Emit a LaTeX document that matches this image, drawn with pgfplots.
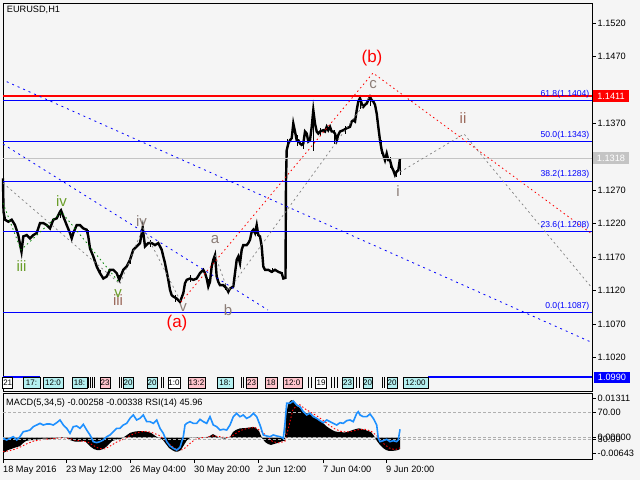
\documentclass[border=0pt]{standalone}
\usepackage{pgfplots}
\pgfplotsset{compat=1.18}
\usepackage{fontspec}
\setmainfont{Liberation Sans}
\definecolor{bg}{HTML}{F5F5F5}
\definecolor{wave}{HTML}{8C7E78}
\definecolor{wavebrown}{HTML}{9C6A5C}
\definecolor{wgreen}{HTML}{6A9E2A}
\definecolor{dgreen}{HTML}{008000}
\definecolor{rsiblue}{HTML}{1E90FF}
\definecolor{evcyan}{HTML}{B4F0F0}
\definecolor{evpink}{HTML}{FFC4CC}
\definecolor{taggray}{HTML}{C4C4C4}
\definecolor{lvl}{HTML}{B0B0B0}
\newcommand{\sm}{\fontsize{9.2}{10}\selectfont}
\newcommand{\fb}{\fontsize{8.6}{9}\selectfont}
\newcommand{\ev}{\fontsize{8}{9}\selectfont}
\newcommand{\wv}{\fontsize{15}{16}\selectfont}
\newcommand{\wb}{\fontsize{17}{18}\selectfont}
\begin{document}
\begin{tikzpicture}
\useasboundingbox (0pt,0pt) rectangle (640pt,480pt);
\fill[bg] (0pt,0pt) rectangle (640pt,480pt);

% ================= MAIN PRICE PANEL =================
\begin{axis}[
  at={(3pt,477pt)}, anchor=north west, scale only axis,
  width=589pt, height=388pt,
  xmin=3, xmax=592, ymin=1.09696, ymax=1.15504,
  clip=false, scaled y ticks=false,
  axis line style={black, line width=0.9pt},
  xtick=\empty,
  ytick={1.1020,1.1070,1.1120,1.1170,1.1220,1.1270,1.1320,1.1370,1.1420,1.1470,1.1520},
  yticklabels={1.1020,1.1070,1.1120,1.1170,1.1220,1.1270,,1.1370,,1.1470,1.1520},
  ytick pos=right, yticklabel pos=right, tick align=outside, major tick length=3.5pt,
  tick style={black, line width=0.8pt},
  yticklabel style={font=\sm, anchor=west, inner sep=0pt, xshift=2pt},
]
% price
\addplot[black, line width=2.4pt] coordinates {
(3,1.1288) (3.5,1.1238) (5,1.1226) (8.3,1.1223) (11.7,1.1226) (15,1.1218) (18.3,1.1203) (20.7,1.1184) (21.5,1.1178) (23.3,1.1201) (26.7,1.1203) (30,1.1198) (33.3,1.1203) (36.7,1.1206) (40,1.1221) (43.3,1.1221) (46.7,1.1218) (50,1.1213) (53.3,1.1226) (56.7,1.1228) (60,1.1238) (61,1.1240) (63.3,1.1231) (66.7,1.1218) (70,1.1206) (71.7,1.1198) (73.3,1.1206) (76.7,1.1218) (80,1.1218) (83.3,1.1213) (86.7,1.1211) (88.3,1.1201) (90,1.1183) (93.3,1.1171) (96.7,1.1156) (100,1.1146) (103.3,1.1138) (106.7,1.1141) (110,1.1151) (113.3,1.1151) (116.7,1.1146) (119.3,1.1136) (123.3,1.1151) (126.7,1.1156) (130,1.1166) (133.3,1.1181) (136.7,1.1186) (140,1.1191) (142.7,1.1214) (145,1.1186) (148.3,1.1191) (151.7,1.1191) (155,1.1188) (158.3,1.1191) (161.7,1.1181) (163.3,1.1171) (165,1.1161) (166.7,1.1148) (168.3,1.1136) (170,1.1121) (171.7,1.1113) (173.3,1.1111) (176.7,1.1108) (180,1.1103) (183.3,1.1116) (185,1.1131) (186.7,1.1136) (190,1.1138) (193.3,1.1136) (196.7,1.1138) (200,1.1146) (203.3,1.1151) (205,1.1146) (206.7,1.1138) (208.3,1.1126) (210,1.1133) (211.7,1.1156) (213.3,1.1166) (215,1.1173) (216.7,1.1141) (218.3,1.1133) (220,1.1128) (223.3,1.1128) (226.7,1.1123) (228.3,1.1118) (230,1.1123) (233.3,1.1126) (235,1.1146) (236.7,1.1166) (238.3,1.1171) (240,1.1161) (241.7,1.1181) (243.3,1.1188) (246.7,1.1188) (248.3,1.1191) (250,1.1196) (251.7,1.1208) (253.3,1.1211) (255,1.1206) (256.7,1.1218) (258.3,1.1203) (260,1.1201) (261.7,1.1186) (263.3,1.1156) (265,1.1151) (268.3,1.1151) (271.7,1.1148) (275,1.1151) (278.3,1.1148) (281.7,1.1146) (283.3,1.1138) (285.5,1.1139) (286,1.1285) (286.7,1.1330) (288.3,1.1340) (290,1.1345) (291.7,1.1348) (293.3,1.1370) (295,1.1358) (296.7,1.1345) (298.3,1.1345) (300,1.1340) (301.7,1.1338) (303.3,1.1340) (305,1.1358) (306.7,1.1355) (308.3,1.1343) (310,1.1345) (311.7,1.1365) (313.3,1.1390) (315,1.1370) (316.7,1.1358) (318.3,1.1355) (320,1.1358) (323.3,1.1360) (325,1.1358) (326.7,1.1365) (328.3,1.1360) (330,1.1365) (331.7,1.1358) (333.3,1.1358) (335,1.1355) (336.7,1.1345) (338.3,1.1353) (340,1.1358) (343.3,1.1360) (346.7,1.1363) (350,1.1365) (351.7,1.1373) (353.3,1.1375) (355,1.1373) (356.7,1.1390) (358.3,1.1403) (360,1.1408) (361.7,1.1400) (363.3,1.1395) (365,1.1398) (366.7,1.1400) (368.3,1.1405) (370,1.1410) (371.7,1.1405) (373.3,1.1403) (375,1.1398) (376.7,1.1385) (378.3,1.1365) (380,1.1345) (381.7,1.1330) (383.3,1.1323) (385,1.1315) (386.7,1.1325) (388.3,1.1315) (390,1.1315) (391.7,1.1305) (393.3,1.1300) (395,1.1293) (396.7,1.1298) (398.3,1.1300) (400,1.1318)
};
% high-low spikes of single bars
\addplot[black, line width=1pt, draw=none, mark=none, error bars/.cd, y dir=both, y explicit, error bar style={black, line width=1pt}, error mark=none] coordinates {
(21,1.1180) +- (0,0.0005)
(60,1.1235) +- (0,0.0006)
(88,1.1205) +- (0,0.0006)
(100,1.1146) +- (0,0.0005)
(119,1.1138) +- (0,0.0005)
(130,1.1166) +- (0,0.0006)
(150,1.1190) +- (0,0.0005)
(175,1.1108) +- (0,0.0005)
(190,1.1138) +- (0,0.0005)
(208,1.1130) +- (0,0.0007)
(225,1.1126) +- (0,0.0005)
(240,1.1165) +- (0,0.0008)
(256,1.1212) +- (0,0.0008)
(262,1.1175) +- (0,0.0012)
(272,1.1150) +- (0,0.0004)
(282,1.1142) +- (0,0.0005)
(287,1.1335) +- (0,0.0012)
(297,1.1345) +- (0,0.0008)
(303,1.1340) +- (0,0.0008)
(313,1.1359) +- (0,0.0030)
(320,1.1358) +- (0,0.0006)
(334,1.1350) +- (0,0.0010)
(345,1.1360) +- (0,0.0006)
(360,1.1400) +- (0,0.0008)
(370,1.1403) +- (0,0.0007)
(381,1.1335) +- (0,0.0010)
(390,1.1312) +- (0,0.0008)
(396,1.1295) +- (0,0.0005)
(400,1.1305) +- (0,0.0012)
};
% horizontal levels
\addplot[taggray, line width=0.9pt] coordinates {(3,1.1318) (592,1.1318)};
\addplot[blue, line width=0.9pt] coordinates {(3,1.1404) (592,1.1404)};
\addplot[blue, line width=0.9pt] coordinates {(3,1.1343) (592,1.1343)};
\addplot[blue, line width=0.9pt] coordinates {(3,1.1283) (592,1.1283)};
\addplot[blue, line width=0.9pt] coordinates {(3,1.1208) (592,1.1208)};
\addplot[blue, line width=0.9pt] coordinates {(3,1.1087) (592,1.1087)};
\addplot[red, line width=2.4pt] coordinates {(3,1.1411) (592,1.1411)};
\addplot[blue, line width=2pt] coordinates {(3,1.0990) (40,1.0990)};
\addplot[blue, line width=2pt] coordinates {(428,1.0990) (592,1.0990)};
% trend lines
\addplot[blue, line width=0.8pt, dash pattern=on 2pt off 4pt] coordinates {(6.7,1.14326) (592,1.10422)};
\addplot[blue, line width=0.8pt, dash pattern=on 2pt off 4pt] coordinates {(3,1.13393) (268,1.10908)};
% wave lines
\addplot[gray, line width=0.7pt, dash pattern=on 2pt off 3pt] coordinates {(3,1.12810) (120,1.11298) (143,1.12136) (181,1.11028)};
\addplot[gray, line width=0.7pt, dash pattern=on 2pt off 3pt] coordinates {(215,1.11732) (228,1.11193) (370,1.14112)};
\addplot[gray, line width=0.7pt, dash pattern=on 2pt off 3pt] coordinates {(400,1.12974) (464,1.13543) (592,1.11238)};
\addplot[red, line width=0.8pt, dash pattern=on 1.5pt off 3pt] coordinates {(181,1.11028) (373,1.14456) (592,1.12046)};
\addplot[dgreen, line width=0.8pt, dash pattern=on 1.5pt off 3pt] coordinates {(3,1.12510) (21,1.11807) (61.5,1.12375) (118,1.11342)};

% title
\node[anchor=west, font=\sm, inner sep=0pt] at (axis cs:6.7,1.15404) {EURUSD,H1};
% fib labels
\node[anchor=east, font=\fb, text=blue, inner sep=0pt] at (axis cs:589.5,1.14139) {61.8(1.1404)};
\node[anchor=east, font=\fb, text=blue, inner sep=0pt] at (axis cs:589.5,1.13531) {50.0(1.1343)};
\node[anchor=east, font=\fb, text=blue, inner sep=0pt] at (axis cs:589.5,1.12941) {38.2(1.1283)};
\node[anchor=east, font=\fb, text=blue, inner sep=0pt] at (axis cs:589.5,1.12176) {23.6(1.1208)};
\node[anchor=east, font=\fb, text=blue, inner sep=0pt] at (axis cs:589.5,1.10964) {0.0(1.1087)};
% wave labels
\node[font=\wv, text=wgreen, inner sep=0pt] at (axis cs:21.5,1.11567) {iii};
\node[font=\wv, text=wgreen, inner sep=0pt] at (axis cs:61.5,1.12540) {iv};
\node[font=\wv, text=wavebrown, inner sep=0pt] at (axis cs:118,1.11058) {iii};
\node[font=\wv, text=wgreen, inner sep=0pt] at (axis cs:118,1.11155) {v};
\node[font=\wv, text=wave, inner sep=0pt] at (axis cs:141.5,1.12241) {iv};
\node[font=\wv, text=wave, inner sep=0pt] at (axis cs:183,1.10946) {v};
\node[font=\wb, text=red, inner sep=0pt] at (axis cs:177,1.10714) {(a)};
\node[font=\wv, text=wave, inner sep=0pt] at (axis cs:215,1.11956) {a};
\node[font=\wv, text=wave, inner sep=0pt] at (axis cs:228,1.10908) {b};
\node[font=\wb, text=red, inner sep=0pt] at (axis cs:372,1.14681) {(b)};
\node[font=\wv, text=wave, inner sep=0pt] at (axis cs:373,1.14277) {c};
\node[font=\wv, text=wave, inner sep=0pt] at (axis cs:398,1.12690) {i};
\node[font=\wv, text=wavebrown, inner sep=0pt] at (axis cs:463,1.13775) {ii};
% price tags
\node[fill=red, text=white, font=\sm, minimum width=36pt, minimum height=12pt, inner sep=0pt] at (axis cs:611,1.1411) {1.1411};
\node[fill=taggray, text=white, font=\sm, minimum width=36pt, minimum height=12pt, inner sep=0pt] at (axis cs:611,1.1318) {1.1318};
\node[fill=blue, text=white, font=\sm, minimum width=36pt, minimum height=11pt, inner sep=0pt] at (axis cs:612,1.09898) {1.0990};
% event row
\tikzset{evb/.style={draw=black, line width=0.5pt, font=\ev, inner sep=0.3pt, minimum height=11pt}}
\pgfplotsinvokeforeach{88,90,92,94,119,121,161,163,241,243,308,311,331,334,337,356,359,382,384}{
  \draw[black, line width=0.5pt] (axis cs:#1,1.09905) -- (axis cs:#1,1.09740);
}
\node[evb, fill=white, minimum width=10pt] at (axis cs:7.7,1.09818) {21};
\node[evb, fill=evcyan, minimum width=17pt] at (axis cs:31.5,1.09818) {17:};
\node[evb, fill=evcyan, minimum width=20pt] at (axis cs:53,1.09818) {12:0};
\node[evb, fill=evcyan, minimum width=15pt] at (axis cs:79.5,1.09818) {18:};
\node[evb, fill=evpink, minimum width=10pt] at (axis cs:105,1.09818) {23};
\node[evb, fill=evcyan, minimum width=10pt] at (axis cs:128,1.09818) {20};
\node[evb, fill=evcyan, minimum width=10pt] at (axis cs:152,1.09818) {20};
\node[evb, fill=white, minimum width=12pt] at (axis cs:174,1.09818) {1:0};
\node[evb, fill=evpink, minimum width=17pt] at (axis cs:196.5,1.09818) {13:2};
\node[evb, fill=evcyan, minimum width=16pt] at (axis cs:225,1.09818) {18:};
\node[evb, fill=evpink, minimum width=11pt] at (axis cs:251.5,1.09818) {23};
\node[evb, fill=evpink, minimum width=12pt] at (axis cs:271,1.09818) {18};
\node[evb, fill=evpink, minimum width=19pt] at (axis cs:292.5,1.09818) {12:0};
\node[evb, fill=white, minimum width=11pt] at (axis cs:321,1.09818) {19};
\node[evb, fill=evcyan, minimum width=11pt] at (axis cs:347.5,1.09818) {23};
\node[evb, fill=evcyan, minimum width=9pt] at (axis cs:367.5,1.09818) {20};
\node[evb, fill=evcyan, minimum width=10pt] at (axis cs:392,1.09818) {20};
\node[evb, fill=evcyan, minimum width=25pt] at (axis cs:415.5,1.09818) {12:00};
\end{axis}

% ================= MACD / RSI PANEL =================
\begin{axis}[
  at={(3pt,87pt)}, anchor=north west, scale only axis,
  width=589pt, height=66pt,
  xmin=3, xmax=592, ymin=-0.00709, ymax=0.01487,
  scaled y ticks=false, scaled x ticks=false,
  axis line style={black, line width=0.9pt},
  xtick={3,66,130,194,258,323,386},
  xticklabels={18 May 2016,23 May 12:00,26 May 04:00,30 May 20:00,2 Jun 12:00,7 Jun 04:00,9 Jun 20:00},
  xtick pos=bottom, ytick pos=right, yticklabel pos=right,
  tick align=outside, major tick length=3.5pt,
  tick style={black, line width=0.8pt},
  xticklabel style={font=\sm, anchor=north west, inner sep=0pt, xshift=0pt, yshift=-3pt},
  ytick={0.01311,0,-0.0052},
  yticklabels={0.01311,0.00000,-0.00643},
  yticklabel style={font=\sm, anchor=west, inner sep=0pt, xshift=2pt},
]
\addplot[fill=black, draw=none] coordinates {
(3,0) (3,-0.0051) (5,-0.0048) (8,-0.0041) (11,-0.0038) (14,-0.0034) (17,-0.0031) (20,-0.0028) (23,-0.0018) (26,-0.0011) (30,-0.0008) (35,-0.0008) (40,-0.0004) (45,-0.0003) (50,-0.0004) (55,-0.0003) (60,0.0002) (65,0.0002) (70,-0.0008) (75,-0.0013) (80,-0.0013) (85,-0.0011) (88,-0.0021) (91,-0.0031) (94,-0.0038) (97,-0.0041) (100,-0.0041) (103,-0.0038) (106,-0.0031) (109,-0.0021) (112,-0.0011) (115,-0.0008) (118,-0.0004) (121,-0.0004) (124,0.0002) (127,0.0009) (130,0.0016) (133,0.0019) (136,0.0021) (139,0.0022) (142,0.0022) (145,0.0021) (148,0.0019) (151,0.0016) (154,0.0009) (157,0.0002) (160,-0.0001) (163,-0.0008) (166,-0.0021) (169,-0.0034) (172,-0.0041) (175,-0.0046) (178,-0.0046) (181,-0.0041) (184,-0.0024) (187,-0.0008) (190,-0.0001) (195,0.0001) (200,0.0002) (205,-0.0001) (210,0.0006) (213,0.0012) (216,0.0006) (220,-0.0001) (225,-0.0003) (230,0.0002) (233,0.0019) (236,0.0026) (240,0.0031) (245,0.0032) (250,0.0034) (253,0.0036) (256,0.0032) (259,0.0022) (262,-0.0001) (265,-0.0014) (268,-0.0021) (271,-0.0024) (274,-0.0021) (277,-0.0018) (280,-0.0014) (283,-0.0011) (285,-0.0010) (286,0.0076) (288,0.0109) (290,0.0122) (292,0.0125) (294,0.0119) (297,0.0105) (300,0.0099) (303,0.0089) (306,0.0082) (309,0.0079) (312,0.0076) (315,0.0069) (318,0.0062) (320,0.0057) (323,0.0049) (326,0.0039) (329,0.0032) (332,0.0026) (335,0.0021) (338,0.0019) (341,0.0019) (344,0.0017) (347,0.0019) (350,0.0022) (353,0.0026) (356,0.0029) (359,0.0031) (362,0.0029) (365,0.0026) (368,0.0022) (371,0.0019) (374,0.0006) (377,-0.0011) (380,-0.0024) (383,-0.0034) (386,-0.0041) (389,-0.0044) (392,-0.0044) (395,-0.0043) (398,-0.0041) (400,-0.0038) (400,0)
} -- cycle;
\addplot[red, line width=0.9pt, dash pattern=on 1.5pt off 2pt] coordinates {
(3,-0.0046) (9,-0.0044) (15,-0.0038) (21,-0.0030) (27,-0.0020) (33,-0.0012) (39,-0.0008) (45,-0.0005) (51,-0.0004) (57,-0.0002) (63,0.0000) (69,-0.0002) (75,-0.0008) (81,-0.0011) (87,-0.0013) (93,-0.0025) (99,-0.0036) (105,-0.0037) (111,-0.0026) (117,-0.0014) (123,-0.0006) (129,0.0005) (135,0.0015) (141,0.0020) (147,0.0021) (153,0.0016) (159,0.0008) (165,-0.0008) (171,-0.0026) (177,-0.0040) (183,-0.0040) (189,-0.0022) (195,-0.0006) (201,0.0000) (207,0.0001) (213,0.0006) (219,0.0004) (225,0.0000) (231,0.0003) (237,0.0017) (243,0.0027) (249,0.0032) (255,0.0034) (261,0.0022) (267,0.0005) (273,-0.0014) (279,-0.0017) (285,-0.0012) (289,0.0040) (293,0.0095) (299,0.0112) (305,0.0096) (311,0.0084) (317,0.0072) (323,0.0058) (329,0.0042) (335,0.0029) (341,0.0021) (347,0.0019) (353,0.0022) (359,0.0027) (365,0.0028) (371,0.0022) (377,0.0006) (383,-0.0018) (389,-0.0034) (395,-0.0040) (400,-0.0034)
};
\addplot[lvl, line width=0.7pt, dash pattern=on 3pt off 2pt] coordinates {(3,0) (592,0)};
\node[anchor=west, font=\sm, inner sep=0pt] at (axis cs:6,0.01154) {MACD(5,34,5) -0.00258 -0.00338 RSI(14) 45.96};
\end{axis}

\begin{axis}[
  at={(3pt,87pt)}, anchor=north west, scale only axis,
  width=589pt, height=66pt,
  xmin=3, xmax=592, ymin=0, ymax=100,
  axis x line=none, axis y line*=right,
  axis line style={black, line width=0.9pt},
  tick align=outside, major tick length=3.5pt,
  tick style={black, line width=0.8pt},
  ytick={30,70}, yticklabels={30.00,70.00},
  yticklabel style={font=\sm, anchor=west, inner sep=0pt, xshift=2pt},
]
\addplot[lvl, line width=0.7pt, dash pattern=on 3pt off 2pt] coordinates {(3,70) (592,70)};
\addplot[lvl, line width=0.7pt, dash pattern=on 3pt off 2pt] coordinates {(3,30) (592,30)};
\addplot[rsiblue, line width=1.6pt] coordinates {
(3,31.3) (6.7,28.8) (10,31.3) (13.3,33.8) (16.7,28.8) (20,33.8) (23.3,41.4) (26.7,42.4) (30,43.9) (33.3,49.0) (36.7,51.5) (40,54.0) (43.3,51.5) (46.7,53.0) (50,53.0) (53.3,51.5) (56.7,55.0) (60,59.1) (63.3,51.5) (66.7,46.5) (70,38.9) (73.3,49.0) (76.7,50.0) (80,46.5) (83.3,52.5) (86.7,43.9) (90,36.4) (93.3,26.3) (96.7,24.8) (100,26.3) (103.3,28.8) (106.7,33.8) (110,36.4) (113.3,41.4) (116.7,46.5) (120,46.5) (123.3,51.5) (126.7,54.0) (130,61.6) (133.3,66.7) (136.7,59.1) (140,61.6) (143.3,66.7) (146.7,56.6) (150,56.6) (153.3,54.0) (156.7,59.1) (160,46.5) (163.3,38.9) (166.7,26.3) (170,19.7) (173.3,16.2) (176.7,13.6) (180,17.7) (183.3,33.8) (185,51.5) (186.7,54.0) (190,56.6) (193.3,54.0) (196.7,54.0) (200,60.1) (203.3,56.6) (206.7,54.0) (210,64.1) (213.3,51.5) (216.7,49.0) (220,43.9) (223.3,45.0) (226.7,43.9) (230,51.5) (233.3,64.1) (236.7,69.2) (240,64.1) (243.3,66.7) (246.7,61.6) (250,64.1) (253.3,69.2) (256.7,64.1) (260,51.5) (263.3,36.4) (266.7,34.9) (270,33.8) (273.3,36.4) (276.7,34.9) (280,33.8) (283.3,31.3) (285,54.0) (286.7,84.4) (290,84.4) (293.3,87.9) (296.7,81.8) (300,79.3) (303.3,71.7) (306.7,66.7) (310,69.2) (313.3,64.1) (316.7,61.6) (320,58.1) (323.3,55.0) (326.7,59.1) (330,56.6) (333.3,54.0) (336.7,51.5) (340,55.0) (343.3,54.0) (346.7,58.1) (350,59.1) (353.3,56.6) (356.7,69.2) (358.3,71.7) (360,66.7) (363.3,64.1) (366.7,64.1) (370,68.2) (373.3,61.6) (376.7,51.5) (378.3,31.3) (380,26.3) (383.3,27.8) (386.7,29.8) (390,26.3) (393.3,27.8) (396.7,26.3) (398.3,28.8) (400,45.0)
};
\end{axis}
\end{tikzpicture}
\end{document}
